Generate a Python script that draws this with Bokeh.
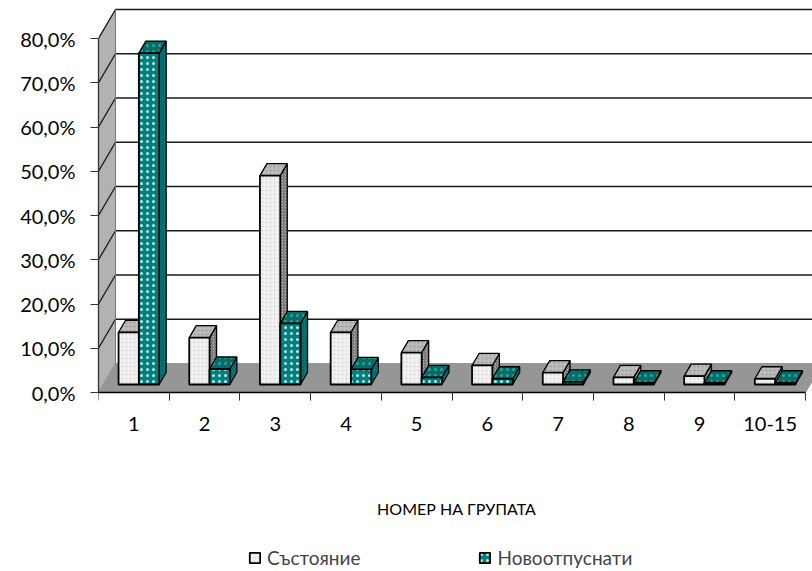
from bokeh.plotting import figure
from bokeh.models import Range1d, FixedTicker, Legend, LegendItem, Label, LinearAxis
from bokeh.embed import file_html
from bokeh.resources import INLINE

categories = ["1", "2", "3", "4", "5", "6", "7", "8", "9", "10-15"]
sostoyanie = [11.8, 10.6, 47.2, 11.8, 7.2, 4.3, 2.7, 1.6, 1.9, 1.3]
novo = [74.9, 3.5, 13.8, 3.4, 1.6, 1.3, 0.6, 0.4, 0.4, 0.4]
y_ticks = [0, 10, 20, 30, 40, 50, 60, 70, 80]
y_labels = ["0,0%", "10,0%", "20,0%", "30,0%", "40,0%", "50,0%", "60,0%", "70,0%", "80,0%"]
names = ["Състояние", "Новоотпуснати"]
axis_title = "НОМЕР НА ГРУПАТА"

FONT = "Lato"
W, H = 812, 571
PX_X = 70.7   # px per category
PX_Y = 4.425  # px per percent
LEFT, BOTTOM = 98, 392
wall_dx, wall_dy = 17 / PX_X, 29 / PX_Y
bar_ox, bar_oy = 5 / PX_X, 8 / PX_Y
bd_x, bd_y = 7 / PX_X, 12 / PX_Y
bar_w = 20.3 / PX_X

x_range = Range1d(0, (W - LEFT) / PX_X)
y_range = Range1d(-(H - BOTTOM) / PX_Y, BOTTOM / PX_Y)
p = figure(width=W, height=H, x_range=x_range, y_range=y_range, output_backend="svg",
           toolbar_location=None, x_axis_type=None, y_axis_type=None,
           min_border_left=LEFT, min_border_right=0, min_border_top=0,
           min_border_bottom=0, outline_line_color=None)
p.grid.visible = False
p.background_fill_color = "white"
p.border_fill_color = "white"

# walls
far_x = x_range.end + 1
p.patch([0, wall_dx, wall_dx, 0], [0, wall_dy, 80 + wall_dy, 80], fill_color="#b2b2b2",
        line_color="#8c8c8c", line_width=1)
p.patch([0, 10, 10 + wall_dx, wall_dx], [0, 0, wall_dy, wall_dy], fill_color="#969696",
        line_color="#969696", line_width=1)
for t in y_ticks:
    if t:
        p.line([wall_dx, far_x], [t + wall_dy, t + wall_dy], line_color="#1a1a1a", line_width=1.6)
        p.line([0, wall_dx], [t, t + wall_dy], line_color="#1a1a1a", line_width=1.3)
p.line([wall_dx, wall_dx], [wall_dy, 80 + wall_dy], line_color="#777777", line_width=1)

S1 = dict(front="#f1f1f1", top="#bcbcbc", side="#b4b4b4", hatch="#d6d6d6", top_hatch="#999999",
          side_hatch="#5e5e5e", scale=4, weight=2.4)
S2 = dict(front="#008080", top="#006f6b", side="#005f5c", hatch="#bfe8e2", top_hatch="#3f9c97",
          side_hatch="#008080", scale=6, weight=1.0)
legend_r = []
for s, (vals, st) in enumerate(((sostoyanie, S1), (novo, S2))):
    fx, fy, tx, ty, sx, sy = [], [], [], [], [], []
    for i, v in enumerate(vals):
        x0 = i + 0.5 + bar_ox - bar_w + s * bar_w
        x1 = x0 + bar_w
        y0 = bar_oy
        y1 = bar_oy + v
        fx.append([x0, x1, x1, x0]); fy.append([y0, y0, y1, y1])
        tx.append([x0, x1, x1 + bd_x, x0 + bd_x]); ty.append([y1, y1, y1 + bd_y, y1 + bd_y])
        sx.append([x1, x1 + bd_x, x1 + bd_x, x1]); sy.append([y0, y0 + bd_y, y1 + bd_y, y1])
    p.patches(sx, sy, fill_color=st["side"], line_color="black", line_width=1.3,
              hatch_pattern="right_diagonal_line", hatch_color=st["side_hatch"], hatch_scale=3, hatch_weight=1)
    p.patches(tx, ty, fill_color=st["top"], line_color="black", line_width=1.3,
              hatch_pattern="dot", hatch_color=st["top_hatch"], hatch_scale=st["scale"], hatch_weight=st["weight"])
    r = p.patches(fx, fy, fill_color=st["front"], line_color="black", line_width=1.8,
                  hatch_pattern="dot", hatch_color=st["hatch"], hatch_scale=st["scale"], hatch_weight=st["weight"])
    legend_r.append(r)

ya = LinearAxis(ticker=FixedTicker(ticks=y_ticks), bounds=(0, 80),
                major_label_overrides={t: l for t, l in zip(y_ticks, y_labels)})
ya.major_tick_in = 0
ya.major_tick_out = 8
ya.major_label_standoff = 15
ya.major_label_text_font = FONT
ya.major_label_text_font_size = "20px"
ya.major_label_text_color = "black"
ya.axis_line_color = "#333333"
ya.major_tick_line_color = "#333333"
ya.axis_line_width = 1.3
p.add_layout(ya, "left")

centers = [i + 0.5 for i in range(10)]
xa = LinearAxis(ticker=FixedTicker(ticks=centers, minor_ticks=list(range(11))), bounds=(0, 10),
                major_label_overrides={c: l for c, l in zip(centers, categories)},
                fixed_location=0)
xa.major_tick_in = 0
xa.major_tick_out = 0
xa.minor_tick_in = 0
xa.minor_tick_out = 8
xa.minor_tick_line_color = "#333333"
xa.major_label_standoff = 16
xa.major_label_text_font = FONT
xa.major_label_text_font_size = "20px"
xa.major_label_text_color = "black"
xa.axis_line_color = "black"
xa.axis_line_width = 1.5
p.add_layout(xa, "below")

p.add_layout(Label(x=358, y=H - 508, x_units="screen", y_units="screen", text=axis_title,
                   text_font=FONT, text_font_size="16px", text_color="black",
                   text_align="center", text_baseline="middle"))

leg = Legend(items=[LegendItem(label=names[0], renderers=[legend_r[0]]),
                    LegendItem(label=names[1], renderers=[legend_r[1]])],
             orientation="horizontal", location=(150, 2), border_line_color=None,
             background_fill_alpha=0, spacing=118, glyph_width=13, glyph_height=13,
             label_standoff=6, label_text_font=FONT, label_text_font_size="19px",
             margin=0, padding=0)
p.add_layout(leg)

open("out.html", "w").write(file_html(p, INLINE))
